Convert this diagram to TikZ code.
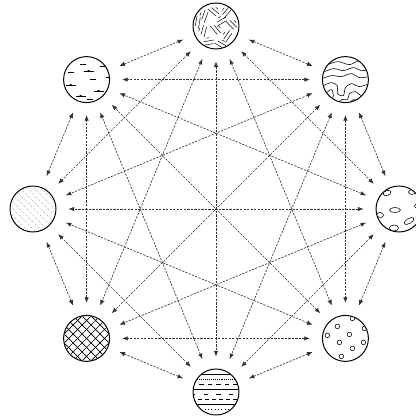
\documentclass[tikz,border=0pt]{standalone}
\usepackage{tikz}
\usetikzlibrary{arrows.meta}
\tikzset{
  blob/.style={circle,draw=black,fill=white,line width=0.7pt,minimum size=1.15cm,inner sep=0pt},
  link/.style={{Latex[length=1.4mm,width=1.1mm]}-{Latex[length=1.4mm,width=1.1mm]},line width=0.45pt,draw=black!80,dash pattern=on 1.6pt off 0.9pt,shorten <=0.3cm,shorten >=0.3cm}
}

\begin{document}
\begin{tikzpicture}[
  texline/.style={line width=0.4pt},
  inset/.style={x=0.025cm,y=0.025cm,texline},
  hatchline/.style={draw=gray!80,dash pattern=on 0.5pt off 1pt,line width=0.45pt}
]
\useasboundingbox (-5.4,-5.175) rectangle (5.0,5.225);

\foreach \nm/\ang in {n1/90,n2/45,n3/0,n4/-45,n5/-90,n6/-135,n7/180,n8/135}{
  \node[blob] (\nm) at (\ang:4.575) {};
}

\foreach \i in {1,...,7}{
  \pgfmathtruncatemacro\k{\i+1}
  \foreach \j in {\k,...,8}{
    \draw[link] (n\i) -- (n\j);
  }
}

\begin{scope}[shift={(n1.center)},inset]
  \clip (0,0) circle (22.5);
  \foreach \x/\y/\a in {-12/10/70,-2/15/-40,10/14/50,16/2/-45,-13/-5/75,0/-3/-50,11/-10/55,-8/-16/10,5/-18/-30,-19/4/80,5/5/30}
    \draw[shift={(\x,\y)},rotate=\a,line width=0.35pt] (-6,-2.5)--(5,-2.5) (-4,1)--(6,1) (-1,4)--(2,4);
\end{scope}

\begin{scope}[shift={(n2.center)},inset]
  \clip (0,0) circle (22.5);
  \draw plot[smooth] coordinates {(-20,14) (-8,18) (4,15) (14,19) (22,16)};
  \draw plot[smooth] coordinates {(-23,7) (-12,11) (-2,9) (8,12) (16,9) (24,10)};
  \draw plot[smooth] coordinates {(-23,1) (-14,4) (-4,3) (6,6) (14,2) (24,3)};
  \draw plot[smooth] coordinates {(-22,-6) (-14,-3) (-8,-6) (-8,-14) (-2,-16) (0,-8) (6,-4) (14,-7) (24,-4)};
  \draw plot[smooth] coordinates {(-20,-14) (-14,-10) (-12,-16) (-14,-22)};
  \draw plot[smooth] coordinates {(-6,-24) (-4,-20) (2,-20) (4,-14) (10,-12) (16,-16) (22,-12)};
  \draw plot[smooth] coordinates {(4,-24) (8,-20) (14,-22) (18,-24)};
\end{scope}

\begin{scope}[shift={(n3.center)},inset]
  \clip (0,0) circle (22.5);
  \foreach \x/\y/\a/\rx/\ry in {-12/16/20/4/2.5,-4/-1/0/5.5/2.5,-19/-6/-10/3.5/2.5,10/-12/30/5.5/2.5,-5/-19/0/4.5/3,13/17/0/3.5/2.5,19/3/0/3.5/2.5}
    \draw[rotate around={\a:(\x,\y)}] (\x,\y) ellipse ({\rx} and {\ry});
\end{scope}

\begin{scope}[shift={(n4.center)},inset]
  \clip (0,0) circle (22.5);
  \foreach \x/\y in {7/20,-8/12,19/10,-18/3,4/4,-6/-4,18/-4,7/-10,-4/-18}
    \draw (\x,\y) circle (2.3);
\end{scope}

\begin{scope}[shift={(n5.center)},inset]
  \clip (0,0) circle (22.5);
  \foreach \y/\s in {18/solid,13/densely dotted,8/dashed,3/solid,-2/loosely dashed,-7/densely dashed,-12/solid,-17/dotted}
    \draw[\s] (-25,\y)--(25,\y);
\end{scope}

\begin{scope}[shift={(n6.center)},inset]
  \clip (0,0) circle (22.5);
  \foreach \k in {-54,-45,...,54}{
    \draw[line width=0.5pt] (\k-30,-30)--(\k+30,30);
    \draw[line width=0.5pt] (\k-30,30)--(\k+30,-30);
  }
\end{scope}

\begin{scope}[shift={(n7.center)},inset]
  \clip (0,0) circle (22.5);
  \foreach \k in {-48,-41,...,48}
    \draw[hatchline] (\k-25,25)--(\k+25,-25);
\end{scope}

\begin{scope}[shift={(n8.center)},inset]
  \clip (0,0) circle (22.5);
  \foreach \x/\y in {-4/15,16/13,-16/7,6/0,22/2,3/-20}
    \draw (\x-3,\y)--(\x+3,\y);
  \foreach \x/\y in {2/8,-16/-6,12/-12,-6/-17}{
    \draw (\x-5,\y)--(\x+5,\y);
    \fill (\x-2.5,\y) .. controls (\x-1,\y+2.2) and (\x+1,\y+2.2) .. (\x+2.5,\y) -- cycle;
  }
\end{scope}

\end{tikzpicture}
\end{document}
